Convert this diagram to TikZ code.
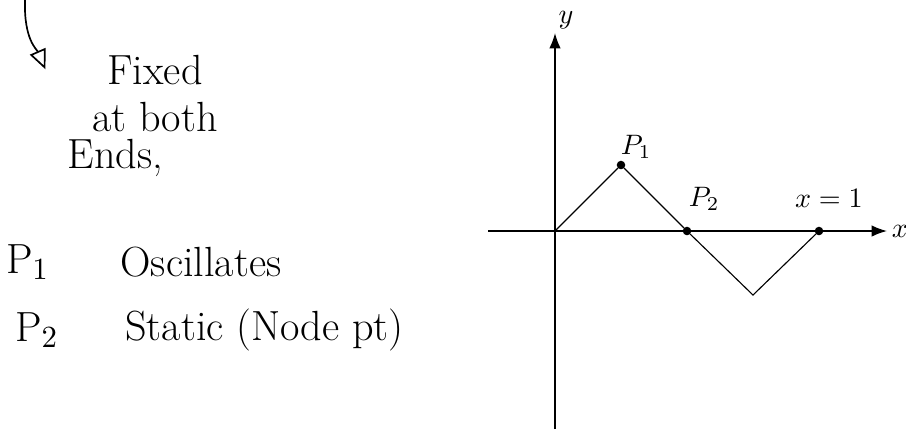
\documentclass[tikz,border=0pt]{standalone}
\usepackage{amsmath}
\usepackage{tikz}
\usetikzlibrary{arrows.meta, positioning}

\begin{document}
\begin{tikzpicture}[>=Latex, x=0.825cm, y=0.825cm, thin]
    % Define styles for the points, the labels and the notes
    \tikzstyle{dot} = [draw, fill=black, circle, inner sep=0pt, minimum size=2.6pt]
    \tikzstyle{axis} = [line width=0.55pt, ->]
    \tikzstyle{note} = [font=\fontsize{15}{18}\selectfont, inner sep=0pt]
    \tikzstyle{lbl} = [font=\normalsize, inner sep=0pt]

    \useasboundingbox (-8.409,-3.0) rectangle (5.318,3.5);

    % Axes
    \coordinate (xstart) at (-1.015,0);
    \coordinate (xend) at (5.03,0);
    \coordinate (ystart) at (0,-3.0);
    \coordinate (yend) at (0,3.0);
    \draw[axis] (xstart) -- (xend) node[right, inner sep=1.5pt] (xlabel) {$x$};
    \draw[axis] (ystart) -- (yend) node[above right, inner sep=1pt] (ylabel) {$y$};

    % Nodes placement
    \coordinate (origin) at (0,0);
    \node [dot] (p1) at (1,1) {};
    \node [dot] (p2) at (2,0) {};
    \coordinate (valley) at (3,-0.97);
    \node [dot] (xone) at (4,0) {};

    \node [lbl] (p1label) at (1.23,1.27) {$P_1$};
    \node [lbl] (p2label) at (2.26,0.49) {$P_2$};
    \node [lbl] (xonelabel) at (4.15,0.5) {$x = 1$};

    % Draw the string
    \draw (origin) -- (p1) -- (p2) -- (valley) -- (xone);

    % Notes on the left
    \coordinate (hookstart) at (-8.03,3.5);
    \coordinate (hookend) at (-7.72,2.45);
    \draw[-{Triangle[open, length=7pt, width=6pt]}, line width=0.6pt]
        (hookstart) .. controls (-8.05,2.9) and (-7.85,2.75) .. (hookend);

    \node [note] (fixedtxt) at (-6.06,2.44) {Fixed};
    \node [note] (bothtxt) at (-6.06,1.72) {at both};
    \node [note] (endstxt) at (-6.66,1.1) {Ends,};

    \node [note] (ponetxt) at (-7.99,-0.47) {P$_1$};
    \node [note, anchor=west] (osctxt) at (-6.59,-0.47) {Oscillates};
    \node [note] (ptwotxt) at (-7.85,-1.5) {P$_2$};
    \node [note, anchor=west] (stattxt) at (-6.52,-1.5) {Static (Node pt)};
\end{tikzpicture}
\end{document}
